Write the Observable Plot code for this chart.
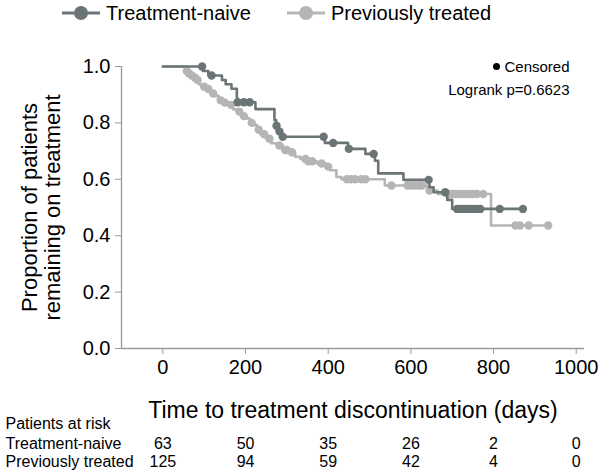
<!DOCTYPE html>
<html><head><meta charset="utf-8">
<script src="https://cdn.jsdelivr.net/npm/d3@7"></script>
<script src="https://cdn.jsdelivr.net/npm/@observablehq/plot@0.6"></script>
<style>
body{margin:0;background:#fff;font-family:Arial,"Liberation Sans",sans-serif;}
#legend{height:40px;position:relative;width:604px;}
#chart svg{display:block;}
.item{position:absolute;top:0;height:26px;display:flex;align-items:center;font-size:20px;color:#000;}
.item svg{margin-right:6px;}
</style></head><body>
<div id="legend"></div>
<div id="chart"></div>
<script>
// ---- data ----
const seriesNames = ["Treatment-naive", "Previously treated"];
const seriesColors = ["#6b7575", "#b5b5b5"];

const naiveTime = [0, 97, 110, 143, 152, 166, 179, 180, 224, 270, 274, 279, 286, 392, 448, 490, 513, 521, 582, 645, 655, 688, 700];
const naiveSurv = [1, 0.984, 0.968, 0.952, 0.937, 0.921, 0.889, 0.873, 0.849, 0.81, 0.79, 0.77, 0.751, 0.729, 0.708, 0.69, 0.666, 0.621, 0.598, 0.572, 0.554, 0.527, 0.495];
const naiveCensor = [95, 118, 181, 196, 210, 275, 282, 290, 389, 412, 450, 510, 643, 683, 712, 718, 724, 730, 738, 745, 752, 760, 768, 815, 871];

const prevTime = [0, 55, 60, 65, 72, 80, 88, 96, 105, 115, 125, 135, 145, 155, 170, 180, 190, 200, 210, 220, 228, 236, 250, 262, 275, 290, 305, 320, 333, 350, 372, 395, 405, 420, 432, 537, 640, 665, 794];
const prevSurv = [1, 0.984, 0.976, 0.968, 0.96, 0.952, 0.936, 0.928, 0.92, 0.904, 0.896, 0.88, 0.872, 0.864, 0.848, 0.84, 0.824, 0.816, 0.8, 0.792, 0.776, 0.76, 0.744, 0.728, 0.72, 0.704, 0.696, 0.68, 0.672, 0.664, 0.656, 0.645, 0.632, 0.608, 0.6, 0.578, 0.56, 0.548, 0.436];
const prevCensor = [58, 63, 70, 78, 84, 100, 110, 122, 140, 150, 165, 185, 196, 215, 232, 245, 258, 282, 296, 300, 312, 345, 352, 361, 384, 400, 445, 455, 465, 480, 490, 553, 592, 600, 610, 620, 627, 645, 690, 700, 710, 720, 730, 740, 750, 760, 775, 853, 864, 885, 932];

const xTicks = [0, 200, 400, 600, 800, 1000];
const yTicks = [0, 0.2, 0.4, 0.6, 0.8, 1.0];
const riskRowLabels = ["Patients at risk", "Treatment-naive", "Previously treated"];
const riskNaive = [63, 50, 35, 26, 2, 0];
const riskPrev = [125, 94, 59, 42, 4, 0];
const censorLabel = "Censored";
const logrankLabel = "Logrank p=0.6623";
const xTitle = "Time to treatment discontinuation (days)";
const yTitle = "Proportion of patients\nremaining on treatment";

// ---- build tables ----
function survAt(times, surv, t) {
  let v = surv[0];
  for (let i = 0; i < times.length; i++) if (times[i] <= t) v = surv[i];
  return v;
}
function stepTable(times, surv, censor, name) {
  const rows = times.map((t, i) => ({t, s: surv[i], name}));
  const end = censor[censor.length - 1];
  rows.push({t: end, s: survAt(times, surv, end), name});
  return rows;
}
function censorTable(times, surv, censor, name) {
  return censor.map(t => ({t, s: survAt(times, surv, t), name}));
}
const naiveLine = stepTable(naiveTime, naiveSurv, naiveCensor, seriesNames[0]);
const prevLine = stepTable(prevTime, prevSurv, prevCensor, seriesNames[1]);
const naiveDots = censorTable(naiveTime, naiveSurv, naiveCensor, seriesNames[0]);
const prevDots = censorTable(prevTime, prevSurv, prevCensor, seriesNames[1]);
const riskNaiveRows = xTicks.map((t, i) => ({t, n: riskNaive[i]}));
const riskPrevRows = xTicks.map((t, i) => ({t, n: riskPrev[i]}));

// ---- legend ----
const legend = document.getElementById("legend");
const legendLeft = [62, 287];
seriesNames.forEach((name, i) => {
  const d = document.createElement("div");
  d.className = "item";
  d.style.left = legendLeft[i] + "px";
  d.innerHTML = `<svg width="38" height="26"><line x1="0" x2="38" y1="13" y2="13" stroke="${seriesColors[i]}" stroke-width="3"/><circle cx="19" cy="13" r="7" fill="${seriesColors[i]}"/></svg><span>${name}</span>`;
  legend.appendChild(d);
});

// ---- plot ----
const axisColor = "#9a9a9a";
const font = "Arial, 'Liberation Sans', sans-serif";
const plot = Plot.plot({
  width: 604, height: 430,
  marginTop: 26, marginBottom: 122, marginLeft: 121, marginRight: 20,
  style: {fontFamily: font, background: "#fff", color: "#000", overflow: "visible"},
  x: {domain: [-100, 1020]},
  y: {domain: [0, 1]},
  marks: [
    Plot.ruleY([0], {stroke: axisColor, strokeWidth: 1.3}),
    Plot.ruleX([-100], {stroke: axisColor, strokeWidth: 1.3}),
    Plot.axisX({ticks: xTicks, tickFormat: d => String(d), tickSize: 6, tickPadding: 5, stroke: axisColor, fill: "#000", fontSize: 20, label: null}),
    Plot.axisY({ticks: yTicks, tickFormat: d => d.toFixed(1), tickSize: 6, tickPadding: 5, stroke: axisColor, fill: "#000", fontSize: 20, label: null}),
    Plot.line(prevLine, {x: "t", y: "s", stroke: seriesColors[1], strokeWidth: 2.6, curve: "step-after"}),
    Plot.dot(prevDots, {x: "t", y: "s", fill: seriesColors[1], r: 4.2}),
    Plot.line(naiveLine, {x: "t", y: "s", stroke: seriesColors[0], strokeWidth: 2.6, curve: "step-after"}),
    Plot.dot(naiveDots, {x: "t", y: "s", fill: seriesColors[0], r: 4.2}),
    Plot.dot([censorLabel], {frameAnchor: "top-right", dx: -88, dy: 0, r: 3.5, fill: "#000"}),
    Plot.text([censorLabel], {frameAnchor: "top-right", textAnchor: "end", lineAnchor: "middle", dx: -15, dy: 1, fontSize: 15, fill: "#000"}),
    Plot.text([logrankLabel], {frameAnchor: "top-right", textAnchor: "end", lineAnchor: "middle", dx: -15, dy: 24, fontSize: 15, fill: "#000"}),
    Plot.text([yTitle], {frameAnchor: "left", textAnchor: "middle", lineAnchor: "middle", rotate: -90, dx: -80, fontSize: 22, lineHeight: 1.05, fill: "#000"}),
    Plot.text([xTitle], {frameAnchor: "bottom", lineAnchor: "middle", dy: 62, fontSize: 23, fill: "#000"}),
    Plot.text([riskRowLabels[0]], {frameAnchor: "bottom-left", textAnchor: "start", lineAnchor: "middle", dx: -116, dy: 75, fontSize: 16, fill: "#000"}),
    Plot.text([riskRowLabels[1]], {frameAnchor: "bottom-left", textAnchor: "start", lineAnchor: "middle", dx: -116, dy: 95, fontSize: 16, fill: "#000"}),
    Plot.text([riskRowLabels[2]], {frameAnchor: "bottom-left", textAnchor: "start", lineAnchor: "middle", dx: -116, dy: 113, fontSize: 16, fill: "#000"}),
    Plot.text(riskNaiveRows, {x: "t", text: "n", frameAnchor: "bottom", lineAnchor: "middle", dy: 95, fontSize: 16, fill: "#000"}),
    Plot.text(riskPrevRows, {x: "t", text: "n", frameAnchor: "bottom", lineAnchor: "middle", dy: 113, fontSize: 16, fill: "#000"})
  ]
});
document.getElementById("chart").appendChild(plot);
</script>
</body></html>
